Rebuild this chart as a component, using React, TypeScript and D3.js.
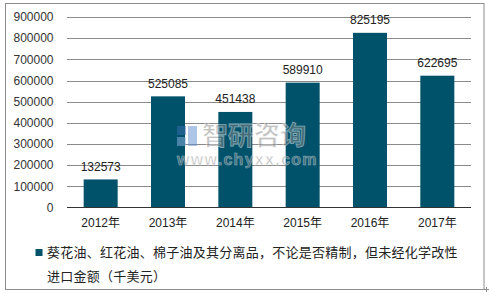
import React from "react";
import * as d3 from "d3";

const categories = ["2012年", "2013年", "2014年", "2015年", "2016年", "2017年"];
const values = [132573, 525085, 451438, 589910, 825195, 622695];
const yTicks = [0, 100000, 200000, 300000, 400000, 500000, 600000, 700000, 800000, 900000];
const legendLines = [
  "葵花油、红花油、棉子油及其分离品，不论是否精制，但未经化学改性",
  "进口金额（千美元）",
];

const W = 489;
const H = 294;
const plot = { left: 67, right: 471, top: 17, bottom: 207.5 };
const barColor = "#00526B";
const font = "Arial, 'Liberation Sans', 'Noto Sans CJK SC', sans-serif";

export default function App() {
  const x = d3
    .scaleBand<string>()
    .domain(categories)
    .range([plot.left, plot.right])
    .paddingInner(0.495)
    .paddingOuter(0.2475);
  const y = d3.scaleLinear().domain([0, 900000]).range([plot.bottom, plot.top]);

  return (
    <div style={{ position: "fixed", left: 0, top: 0, width: W, height: H, background: "#fff" }}>
      <svg width={W} height={H} style={{ display: "block" }} fontFamily={font}>
        <rect x={0} y={0} width={W} height={H} fill="#fff" />
        <rect x={5.5} y={3.5} width={478.5} height={286} fill="none" stroke="#8c8c8c" strokeWidth={1} />
        <path d="M484 289.5 h5 M486.5 287 v5" stroke="#8c8c8c" strokeWidth={1} />
        {yTicks.map((t) => (
          <g key={t}>
            {t > 0 && (
              <line
                x1={plot.left}
                x2={plot.right}
                y1={Math.round(y(t)) + 0.5}
                y2={Math.round(y(t)) + 0.5}
                stroke="#8a8a8a"
                strokeWidth={1}
              />
            )}
            <text
              x={53.5}
              y={y(t)}
              dy="0.36em"
              textAnchor="end"
              fontSize={12}
              fill="#333"
            >
              {t}
            </text>
          </g>
        ))}
        {categories.map((c, i) => {
          const bx = x(c)!;
          const by = y(values[i]);
          return (
            <g key={c}>
              <rect x={bx} y={by} width={x.bandwidth()} height={plot.bottom - by} fill={barColor} />
              <text x={bx + x.bandwidth() / 2} y={by - 8.5} textAnchor="middle" fontSize={12} fill="#222">
                {values[i]}
              </text>
              <text
                x={bx + x.bandwidth() / 2}
                y={226.5}
                textAnchor="middle"
                fontSize={12}
                fill="#222"
              >
                {c}
              </text>
            </g>
          );
        })}
        <line x1={plot.left} x2={plot.right} y1={207.5} y2={207.5} stroke="#333" strokeWidth={1} />
        <g opacity={0.5}>
          <rect x={177} y={126} width={9} height={9} fill="#3a6fb0" />
          <rect x={188} y={126} width={9} height={20} fill="#5e8fd0" />
          <rect x={177} y={137} width={9} height={9} fill="#8fb3e3" />
          <text x={202} y={145} fontSize={26} fill="#888" stroke="#fff" strokeWidth={0.8} fontFamily="'Noto Sans CJK SC', sans-serif" fontWeight="bold">
            智研咨询
          </text>
          <text x={177} y={165} fontSize={16} fill="#888" stroke="#fff" strokeWidth={0.6} letterSpacing={1.3} fontFamily="Arial, 'Liberation Sans', sans-serif" fontWeight="bold">
            www.chyxx.com
          </text>
        </g>
        <rect x={35.5} y={249} width={7} height={7} fill={barColor} />
        {legendLines.map((l, i) => (
          <text key={i} x={47} y={257 + i * 23.5} fontSize={13} letterSpacing={0.25} fill="#222" fontFamily="'Noto Sans CJK SC', sans-serif">
            {l}
          </text>
        ))}
      </svg>
    </div>
  );
}
